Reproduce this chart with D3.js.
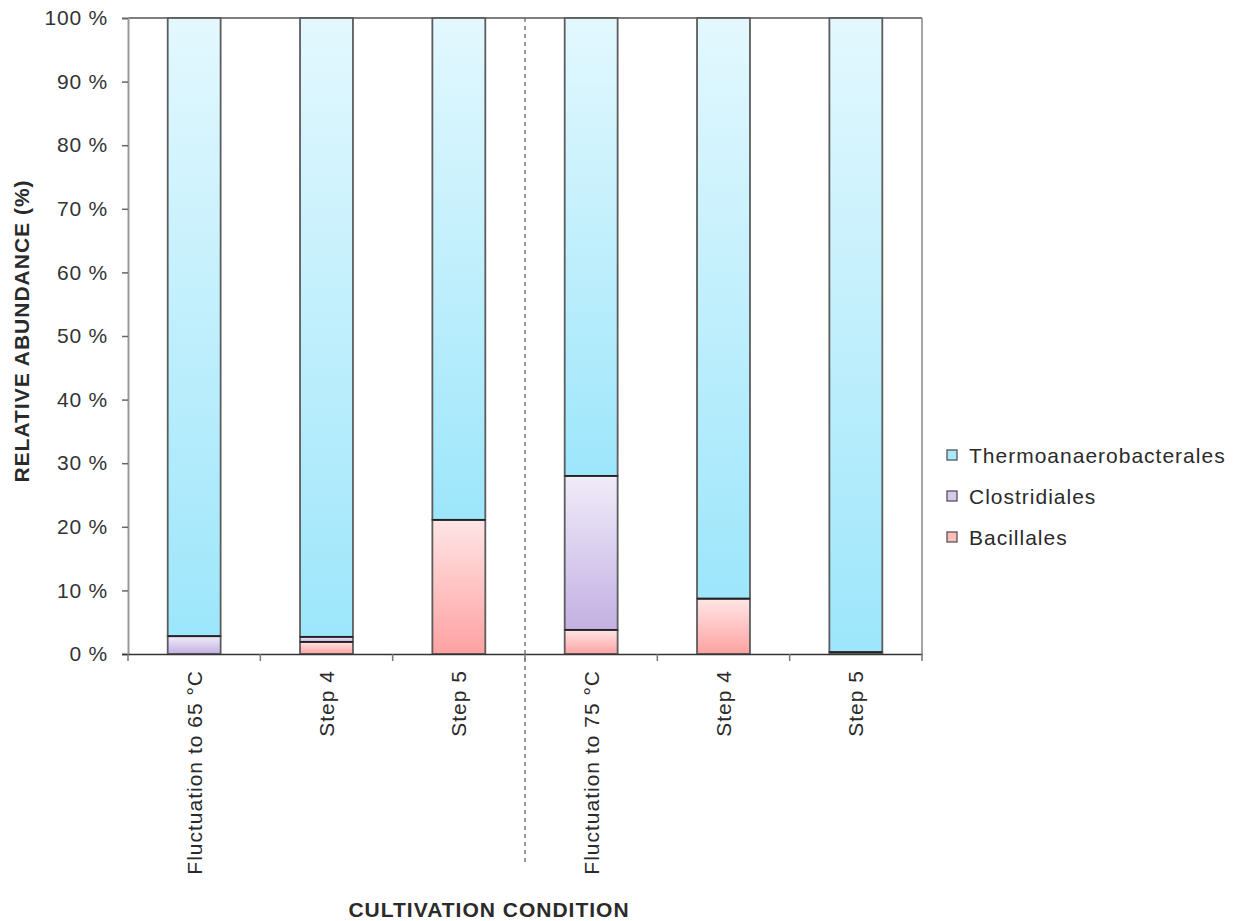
<!DOCTYPE html>
<html><head><meta charset="utf-8">
<script src="https://cdn.jsdelivr.net/npm/d3@7"></script>
<style>body{margin:0;background:#fff;} text{font-family:"Liberation Sans",Arial,sans-serif;}</style>
</head><body>
<svg id="c" width="1238" height="921"></svg>
<script>
const categories = ["Fluctuation to 65 °C","Step 4","Step 5","Fluctuation to 75 °C","Step 4 ","Step 5 "];
const categoryLabels = ["Fluctuation to 65 °C","Step 4","Step 5","Fluctuation to 75 °C","Step 4","Step 5"];
const seriesNames = ["Bacillales","Clostridiales","Thermoanaerobacterales"];
const bacillales = [0, 1.9, 21.1, 3.8, 8.7, 0.3];
const clostridiales = [2.8, 0.8, 0, 24.2, 0, 0];
const thermo = bacillales.map((b,i)=>100-b-clostridiales[i]);
const yTicks = [0,10,20,30,40,50,60,70,80,90,100];

const svg = d3.select("#c");
const L=128,R=922,T=18,B=654;
const x = d3.scaleBand().domain(categories).range([L,R]).paddingInner(0.6).paddingOuter(0.3);
const xb = d3.scaleBand().domain(categories).range([L,R]);
const y = d3.scaleLinear().domain([0,100]).range([B,T]);

const grads = {
  "Thermoanaerobacterales":["#e3f8fe","#9de6fb","#a8e9fb"],
  "Clostridiales":["#f0ecf9","#c3b0e3","#d6c9ee"],
  "Bacillales":["#ffe5e5","#ffa2a2","#ffbcbc"]
};
const defs = svg.append("defs");
seriesNames.forEach((s,i)=>{
  const g = defs.append("linearGradient").attr("id","g"+i).attr("x1",0).attr("y1",0).attr("x2",0).attr("y2",1);
  g.append("stop").attr("offset","0%").attr("stop-color",grads[s][0]);
  g.append("stop").attr("offset","100%").attr("stop-color",grads[s][1]);
});

const rows = categories.map((c,i)=>({cat:c,"Bacillales":bacillales[i],"Clostridiales":clostridiales[i],"Thermoanaerobacterales":thermo[i]}));
const stacked = d3.stack().keys(seriesNames)(rows);

// frame
svg.append("line").attr("x1",L).attr("x2",R).attr("y1",T).attr("y2",T).attr("stroke","#555").attr("stroke-width",1.5);
svg.append("line").attr("x1",R).attr("x2",R).attr("y1",T).attr("y2",B).attr("stroke","#888").attr("stroke-width",1.5);

// dashed separator
svg.append("line").attr("x1",xb(categories[3])).attr("x2",xb(categories[3])).attr("y1",T).attr("y2",865)
  .attr("stroke","#666").attr("stroke-width",1.3).attr("stroke-dasharray","4,4");

stacked.forEach((layer,si)=>{
  svg.append("g").selectAll("rect").data(layer.filter(d=>d[1]-d[0]>0)).join("rect")
    .attr("x",d=>x(d.data.cat)).attr("width",x.bandwidth())
    .attr("y",d=>y(d[1])).attr("height",d=>y(d[0])-y(d[1]))
    .attr("fill","url(#g"+si+")").attr("stroke","#5c5c5c").attr("stroke-width",1.8);
});
// boundaries between segments
stacked.slice(0,2).forEach(layer=>{
  svg.append("g").selectAll("line").data(layer.filter(d=>d[1]-d[0]>0)).join("line")
    .attr("x1",d=>x(d.data.cat)).attr("x2",d=>x(d.data.cat)+x.bandwidth())
    .attr("y1",d=>y(d[1])).attr("y2",d=>y(d[1])).attr("stroke","#222").attr("stroke-width",1.8);
});

// y axis
const ya = svg.append("g").attr("transform",`translate(${L},0)`)
  .call(d3.axisLeft(y).tickValues(yTicks).tickFormat(d=>d+" %").tickSize(6).tickPadding(14));
ya.select(".domain").attr("stroke","#999").attr("stroke-width",2);
ya.selectAll(".tick line").attr("stroke","#666").attr("stroke-width",1.5);
ya.selectAll(".tick text").attr("font-size",21).attr("fill","#333").attr("letter-spacing","0.8px").attr("font-family","Liberation Sans, Arial, sans-serif");
ya.selectAll(".tick").filter(d=>d===0).select("line").attr("stroke","#333");

// x axis
const xa = svg.append("g").attr("transform",`translate(0,${B})`)
  .call(d3.axisBottom(xb).tickSize(0).tickFormat(""));
xa.select(".domain").attr("stroke","#333").attr("stroke-width",1.5);
const bounds = categories.map(c=>xb(c)).concat([R]);
svg.append("g").selectAll("line").data(bounds).join("line")
  .attr("x1",d=>d).attr("x2",d=>d).attr("y1",B).attr("y2",B+7).attr("stroke","#777").attr("stroke-width",1.5);
svg.append("g").selectAll("text").data(categories).join("text")
  .attr("transform",(d)=>`translate(${xb(d)+xb.bandwidth()/2},${B+16}) rotate(-90)`)
  .attr("text-anchor","end").attr("dy","0.35em").attr("font-size",21).attr("fill","#2a2a2a").attr("letter-spacing","1px")
  .text((d,i)=>categoryLabels[i]);

// titles
svg.append("text").attr("transform",`translate(29,331) rotate(-90)`).attr("text-anchor","middle")
  .attr("font-size",21).attr("font-weight","bold").attr("fill","#2a2a2a").attr("letter-spacing","1px").text("RELATIVE ABUNDANCE (%)");
svg.append("text").attr("x",489).attr("y",917).attr("text-anchor","middle")
  .attr("font-size",21).attr("font-weight","bold").attr("fill","#2a2a2a").attr("letter-spacing","1px").text("CULTIVATION CONDITION");

// legend
const legendOrder = ["Thermoanaerobacterales","Clostridiales","Bacillales"];
const lg = svg.append("g").selectAll("g").data(legendOrder).join("g")
  .attr("transform",(d,i)=>`translate(947,${455+i*41})`);
lg.append("rect").attr("x",0).attr("y",-5).attr("width",10).attr("height",10)
  .attr("fill",d=>grads[d][2]).attr("stroke","#555").attr("stroke-width",1.3);
lg.append("text").attr("x",22).attr("dy","0.36em").attr("font-size",21).attr("fill","#2a2a2a").attr("letter-spacing","1px").text(d=>d);
</script>
</body></html>
